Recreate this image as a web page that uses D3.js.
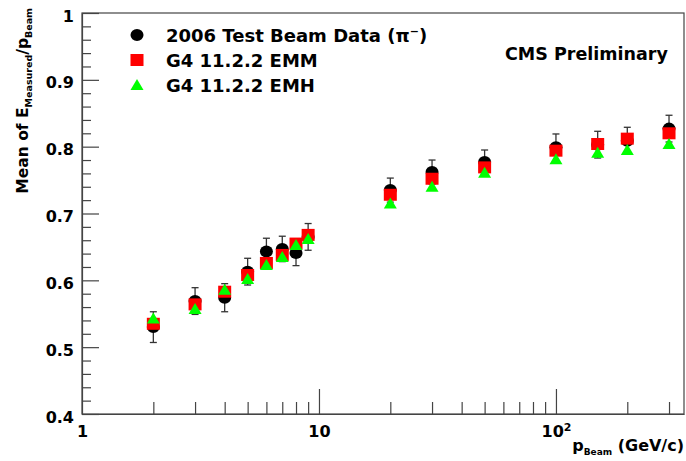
<!DOCTYPE html>
<html>
<head>
<meta charset="utf-8">
<script src="https://cdn.jsdelivr.net/npm/d3@7"></script>
<style>
  body { margin: 0; background: #fff; }
  text { font-family: "DejaVu Sans", sans-serif; font-weight: bold; fill: #000; }
  .axis path, .axis line { stroke: #444; stroke-width: 1.2; }
</style>
</head>
<body>
<div id="plot"></div>
<script>
// beam momentum (GeV/c) and mean E_measured / p_beam
const pBeam = [2, 3, 4, 5, 6, 7, 8, 9, 20, 30, 50, 100, 150, 200, 300];
const tbData = [0.530, 0.569, 0.574, 0.613, 0.643, 0.647, 0.641, 0.665, 0.735, 0.762, 0.777, 0.799, 0.803, 0.809, 0.827];
const tbErr = [0.023, 0.020, 0.021, 0.020, 0.020, 0.019, 0.019, 0.020, 0.018, 0.018, 0.018, 0.020, 0.020, 0.020, 0.020];
const g4EMM = [0.535, 0.564, 0.583, 0.608, 0.626, 0.638, 0.655, 0.668, 0.728, 0.752, 0.769, 0.794, 0.804, 0.812, 0.820];
const g4EMH = [0.543, 0.557, 0.586, 0.602, 0.623, 0.635, 0.653, 0.662, 0.715, 0.740, 0.761, 0.781, 0.791, 0.795, 0.804];

const yMajor = [0.4, 0.5, 0.6, 0.7, 0.8, 0.9, 1.0];
const yMinor = d3.range(0.42, 1.0, 0.02).filter(v => Math.abs(v * 10 - Math.round(v * 10)) > 0.01);
const xMajor = [1, 10, 100];
const xMinor = [2, 3, 4, 5, 6, 7, 8, 9, 20, 30, 40, 50, 60, 70, 80, 90, 200, 300];

const legendNames = ["2006 Test Beam Data", "G4 11.2.2 EMM", "G4 11.2.2 EMH"];

const W = 686, H = 461;
const margin = {top: 13, right: 2, bottom: 47, left: 82},
    width = W - margin.left - margin.right,
    height = H - margin.top - margin.bottom;

const svg = d3.select("#plot").append("svg")
    .attr("width", W).attr("height", H);
const g = svg.append("g").attr("transform", "translate(" + margin.left + "," + margin.top + ")");

const x = d3.scaleLog().domain([1, 347]).range([0, width]);
const y = d3.scaleLinear().domain([0.4, 1.0]).range([height, 0]);

// frame
g.append("rect").attr("width", width).attr("height", height)
  .attr("fill", "none").attr("stroke", "#444").attr("stroke-width", 1.2);

// y axis (ticks inward)
g.append("g").attr("class", "axis")
  .call(d3.axisLeft(y).tickValues(yMajor).tickSize(-17).tickSizeOuter(0).tickPadding(8)
    .tickFormat(d => d === 1 ? "1" : d3.format(".1f")(d)))
  .call(s => s.selectAll("text").attr("font-size", 16).attr("dy", "0.5em"));
g.append("g").attr("class", "axis")
  .call(d3.axisLeft(y).tickValues(yMinor).tickSize(-9).tickFormat(""))
  .call(s => s.select(".domain").remove());

// x axis
const xAx = g.append("g").attr("class", "axis").attr("transform", "translate(0," + height + ")")
  .call(d3.axisBottom(x).tickValues(xMajor).tickSize(-25).tickSizeOuter(0).tickPadding(12)
    .tickFormat(d => d === 100 ? "10" : String(d)));
xAx.selectAll("text").attr("font-size", 16);
xAx.selectAll(".tick").filter(d => d === 1).select("line").remove();
xAx.selectAll(".tick").filter(d => d === 100).select("text")
  .append("tspan").attr("font-size", 11).attr("dy", "-0.55em").text("2");
g.append("g").attr("class", "axis").attr("transform", "translate(0," + height + ")")
  .call(d3.axisBottom(x).tickValues(xMinor).tickSize(-12).tickFormat(""))
  .call(s => s.select(".domain").remove());

// axis titles
const xt = svg.append("text").attr("x", 684).attr("y", 451).attr("text-anchor", "end").attr("font-size", 16);
xt.append("tspan").text("p");
xt.append("tspan").attr("font-size", 9).attr("dy", 4).text("Beam");
xt.append("tspan").attr("dy", -4).text(" (GeV/c)");

const yt = svg.append("text").attr("text-anchor", "end").attr("font-size", 15.5)
  .attr("transform", "translate(28,8) rotate(-90)");
yt.append("tspan").text("Mean of E");
yt.append("tspan").attr("font-size", 9.5).attr("dy", 4).text("Measured");
yt.append("tspan").attr("dy", -4).text("/p");
yt.append("tspan").attr("font-size", 9.5).attr("dy", 4).text("Beam");

// markers
const ptsTB = pBeam.map((p, i) => ({p: p, v: tbData[i], e: tbErr[i]}));
const ptsEMM = pBeam.map((p, i) => ({p: p, v: g4EMM[i]}));
const ptsEMH = pBeam.map((p, i) => ({p: p, v: g4EMH[i]}));

const errG = g.append("g").attr("stroke", "#333").attr("stroke-width", 1.3);
ptsTB.forEach(d => {
  const cx = x(d.p), y0 = y(d.v - d.e), y1 = y(d.v + d.e);
  errG.append("line").attr("x1", cx).attr("x2", cx).attr("y1", y0).attr("y2", y1);
  errG.append("line").attr("x1", cx - 3.5).attr("x2", cx + 3.5).attr("y1", y0).attr("y2", y0);
  errG.append("line").attr("x1", cx - 3.5).attr("x2", cx + 3.5).attr("y1", y1).attr("y2", y1);
});

function circleMk(sel, cx, cy) { sel.append("ellipse").attr("cx", cx).attr("cy", cy).attr("rx", 6.5).attr("ry", 6).attr("fill", "#000"); }
function squareMk(sel, cx, cy) { sel.append("rect").attr("x", cx - 6.5).attr("y", cy - 6).attr("width", 13).attr("height", 12).attr("fill", "#ff0000"); }
function triMk(sel, cx, cy) {
  sel.append("path").attr("d", "M" + (cx - 6.5) + "," + (cy + 5) + "L" + (cx + 6.5) + "," + (cy + 5) + "L" + cx + "," + (cy - 6) + "Z")
    .attr("fill", "#00ff00");
}

const mk = g.append("g");
ptsTB.forEach(d => circleMk(mk, x(d.p), y(d.v)));
ptsEMM.forEach(d => squareMk(mk, x(d.p), y(d.v)));
ptsEMH.forEach(d => triMk(mk, x(d.p), y(d.v)));

// legend
const legY = [35, 60, 85];
const leg = svg.append("g");
circleMk(leg, 137, legY[0]);
squareMk(leg, 137, legY[1]);
triMk(leg, 137, legY[2]);
legendNames.forEach((n, i) => {
  const t = leg.append("text").attr("x", 166).attr("y", legY[i] + 6.5).attr("font-size", 18).text(n);
  if (i === 0) {
    t.append("tspan").text(" (\u03C0");
    t.append("tspan").attr("font-size", 11).attr("dy", -7).text("\u2212");
    t.append("tspan").attr("dy", 7).text(")");
  }
});

svg.append("text").attr("x", 505).attr("y", 60).attr("font-size", 17.5).text("CMS Preliminary");
</script>
</body>
</html>
